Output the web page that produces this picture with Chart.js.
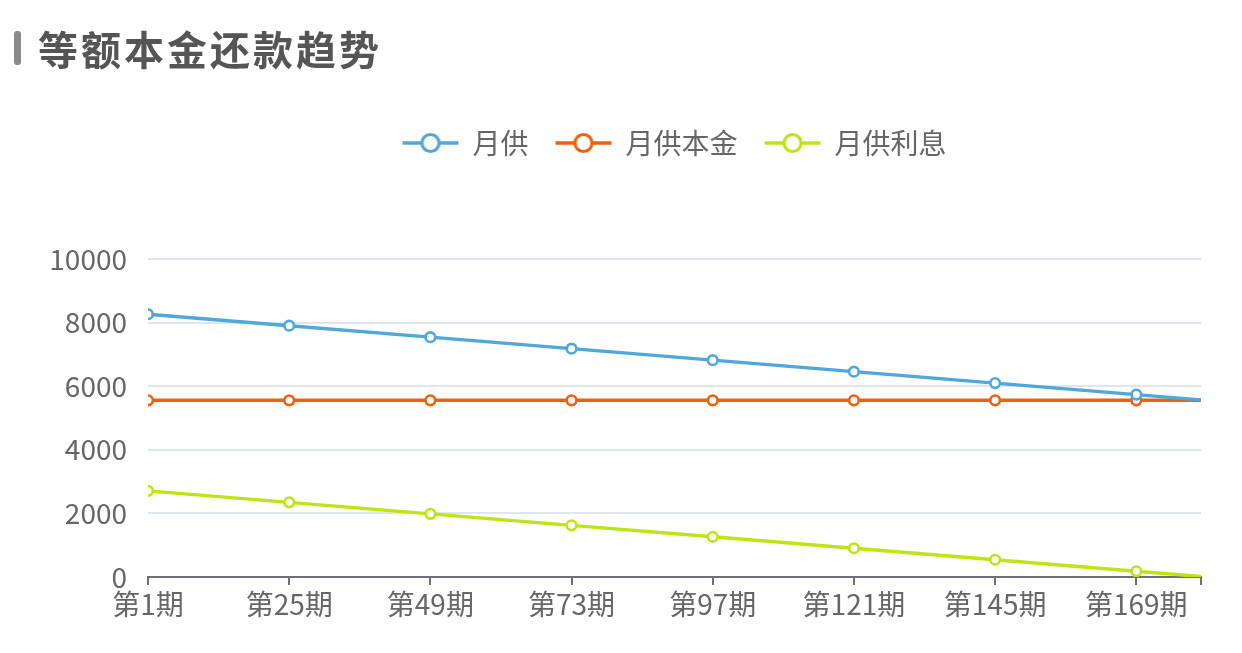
<!DOCTYPE html>
<html>
<head>
<meta charset="utf-8">
<script src="https://cdn.jsdelivr.net/npm/chart.js@4.4.1/dist/chart.umd.min.js"></script>
<style>
  html, body { margin: 0; padding: 0; background: #fff; width: 1242px; height: 653px; overflow: hidden; }
  #wrap { position: absolute; left: 0; top: 0; width: 1242px; height: 653px; }
  #title { position: absolute; left: 14px; top: 24px; height: 48px; display: flex; align-items: center;
    font-family: "Noto Sans CJK SC", sans-serif; font-weight: bold; font-size: 40px; letter-spacing: 3px; color: #555; z-index: 2; }
  #title .bar { display: inline-block; width: 7px; height: 34px; background: #8a8a8a; border-radius: 3px; margin-right: 17px; }
</style>
</head>
<body>
<div id="title"><span class="bar"></span>等额本金还款趋势</div>
<div id="wrap"><canvas id="c" width="1242" height="653"></canvas></div>
<script>
// ---- data ----
const periods = [1, 25, 49, 73, 97, 121, 145, 169, 180];
const xTickLabels = ['第1期', '第25期', '第49期', '第73期', '第97期', '第121期', '第145期', '第169期', ''];
const seriesNames = ['月供', '月供本金', '月供利息'];
const monthlyPayment = [8264, 7903, 7542, 7181, 6819, 6458, 6097, 5736, 5571];
const monthlyPrincipal = [5556, 5556, 5556, 5556, 5556, 5556, 5556, 5556, 5556];
const monthlyInterest = [2708, 2347, 1986, 1625, 1264, 903, 542, 181, 15];
const yTicks = [0, 2000, 4000, 6000, 8000, 10000];

const colors = ['#50a7da', '#ec6210', '#bde414'];
const FONT = '"Noto Sans CJK SC", "Noto Sans", sans-serif';

function legendIcon(color) {
  const cv = document.createElement('canvas');
  cv.width = 58; cv.height = 24;
  const g = cv.getContext('2d');
  g.strokeStyle = color; g.lineWidth = 3.5;
  g.beginPath(); g.moveTo(1, 12); g.lineTo(57, 12); g.stroke();
  g.beginPath(); g.arc(29, 12, 8.5, 0, Math.PI * 2);
  g.fillStyle = '#fff'; g.fill(); g.lineWidth = 3.2; g.stroke();
  return cv;
}
const icons = colors.map(legendIcon);

const seriesData = [monthlyPayment, monthlyPrincipal, monthlyInterest];
const datasets = seriesData.map((arr, i) => ({
  label: seriesNames[i],
  data: arr.map((v, k) => ({ x: periods[k], y: v })),
  borderColor: colors[i],
  backgroundColor: '#fff',
  borderWidth: 3.4,
  pointRadius: ctx => (ctx.dataIndex === periods.length - 1 ? 0 : 4.8),
  pointHoverRadius: 5,
  pointBorderWidth: 2.6,
  pointBackgroundColor: '#fff',
  pointBorderColor: colors[i],
  tension: 0,
  fill: false
}));

const PLOT_LEFT = 148, PLOT_RIGHT = 1201;

const legendShift = {
  id: 'legendShift',
  afterLayout(ch) {
    if (ch.legend) { ch.legend.left = PLOT_LEFT; ch.legend.right = PLOT_RIGHT; }
  }
};

const chart = new Chart(document.getElementById('c'), {
  type: 'line',
  data: { datasets },
  plugins: [legendShift],
  options: {
    responsive: false,
    animation: false,
    layout: { padding: { top: 102, left: 0, right: 1242 - PLOT_RIGHT, bottom: 0 } },
    plugins: {
      tooltip: { enabled: false },
      legend: {
        position: 'top',
        align: 'center',
        labels: {
          usePointStyle: true,
          pointStyleWidth: 56,
          padding: 27,
          color: '#666',
          font: { family: FONT, size: 28 },
          generateLabels: function (ch) {
            const items = Chart.defaults.plugins.legend.labels.generateLabels(ch);
            items.forEach(it => { it.pointStyle = icons[it.datasetIndex]; });
            return items;
          }
        }
      }
    },
    scales: {
      x: {
        type: 'linear',
        min: periods[0],
        max: periods[periods.length - 1],
        afterBuildTicks: s => { s.ticks = periods.map(v => ({ value: v })); },
        afterFit: s => { s.height = 76; },
        ticks: {
          autoSkip: false,
          maxRotation: 0,
          padding: 3,
          color: '#666',
          font: { family: FONT, size: 28 },
          callback: (v, idx) => xTickLabels[idx]
        },
        grid: { display: true, drawOnChartArea: false, drawTicks: true, tickLength: 8, color: '#6e7079', lineWidth: 2 },
        border: { display: true, color: '#6e7079', width: 2 }
      },
      y: {
        min: 0,
        max: 10000,
        afterBuildTicks: s => { s.ticks = yTicks.map(v => ({ value: v })); },
        afterFit: s => { s.width = PLOT_LEFT; },
        ticks: {
          padding: 21,
          color: '#666',
          font: { family: FONT, size: 28 },
          callback: v => String(v)
        },
        grid: { color: '#e0e6f1', lineWidth: 2, drawTicks: false },
        border: { display: false }
      }
    }
  }
});

// legend bottom spacing so the plot area starts at the right height
const origFit = chart.legend.fit;
chart.legend.fit = function () { origFit.call(this); this.height = 157; };
chart.update();
</script>
</body>
</html>
